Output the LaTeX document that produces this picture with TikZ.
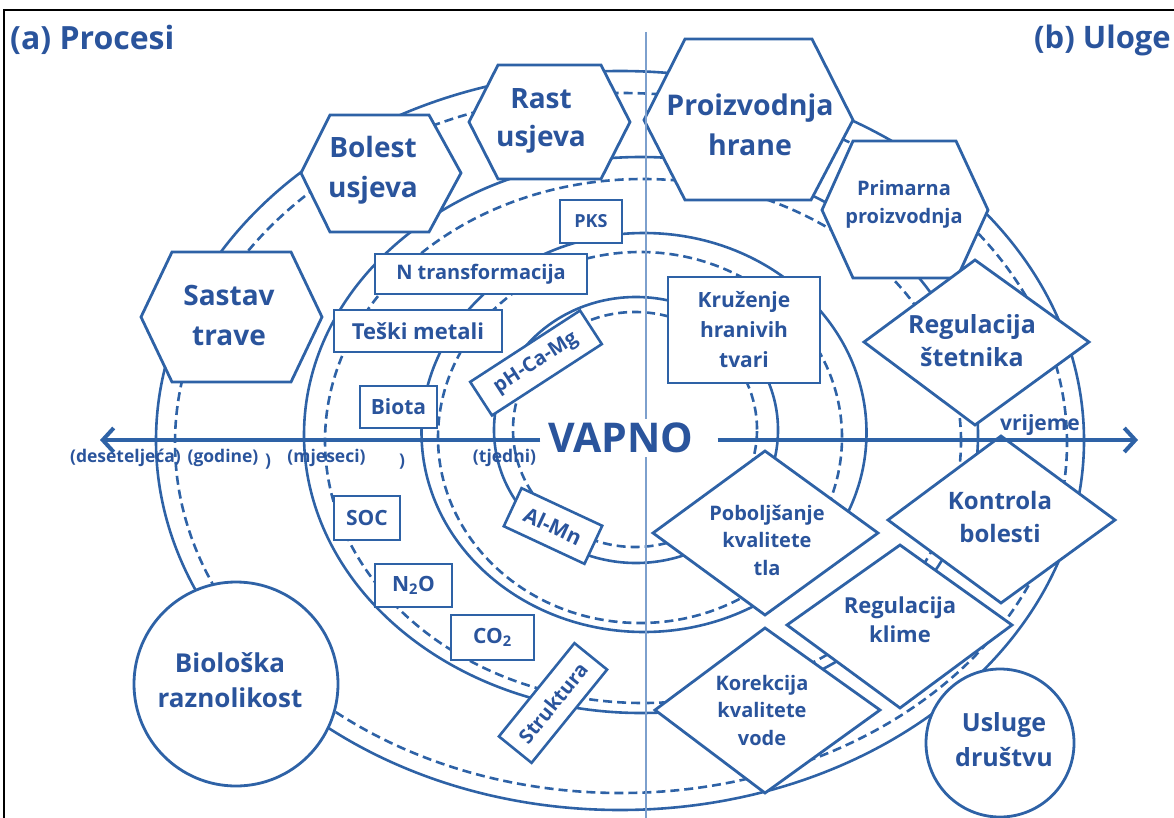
\documentclass[tikz,border=0pt]{standalone}
\usepackage{fontspec}
\setmainfont{Open Sans}
\usetikzlibrary{arrows.meta}
\definecolor{ln}{RGB}{46,98,166}
\definecolor{tx}{RGB}{42,84,156}
\definecolor{dv}{RGB}{125,160,205}
\begin{document}
\begin{tikzpicture}[x=1pt,y=-1pt,
  ring/.style={draw=ln, line width=2.6pt},
  dring/.style={draw=ln, line width=2.6pt, dash pattern=on 9pt off 5pt},
  shp/.style={draw=ln, line width=2.8pt, fill=white, line join=miter},
  lbl/.style={text=tx, align=center, inner sep=0pt},
  box/.style={draw=ln, line width=2.6pt, fill=white, text=tx, inner sep=0pt,
    font=\bfseries\fontsize{20}{24}\selectfont},
  axis/.style={draw=ln, line width=4pt, -{Straight Barb[length=11pt,width=24pt,line width=4pt]}},
  tick/.style={text=tx, inner sep=0pt, font=\bfseries\fontsize{17.5}{20}\selectfont},
]
\useasboundingbox (0,0) rectangle (1174,818);
% frame
\draw[black, line width=2.5pt] (4,818) -- (4,10) -- (1174,10);
% titles
\node[lbl, anchor=west, font=\bfseries\fontsize{32}{36}\selectfont] (ta) at (10,40) {(a) Procesi};
\node[lbl, anchor=east, font=\bfseries\fontsize{31}{36}\selectfont] (tb) at (1171,40) {(b) Uloge};
% rings
\draw[ring]  (620,440.5) ellipse [x radius=464pt, y radius=369.5pt];
\draw[dring] (621,443) ellipse [x radius=446pt, y radius=350pt];
\draw[ring]  (641,435) ellipse [x radius=337pt, y radius=278pt];
\draw[dring] (643,441) ellipse [x radius=318pt, y radius=262pt];
\draw[ring]  (644,432.5) ellipse [x radius=222.5pt, y radius=199.5pt];
\draw[dring] (640,437.5) ellipse [x radius=202pt, y radius=185.5pt];
\draw[ring]  (636,430) ellipse [x radius=142pt, y radius=133pt];
\draw[dring] (635,429.5) ellipse [x radius=122pt, y radius=117.5pt];
% hexagons
\draw[shp] (141,317) -- (172,252) -- (291,252) -- (322,317) -- (291,382) -- (172,382) -- cycle;
\draw[shp] (301,173) -- (330,115) -- (429,115) -- (461,173) -- (429,232) -- (330,232) -- cycle;
\draw[shp] (469,122) -- (498,65) -- (601,65) -- (630,122) -- (601,179) -- (498,179) -- cycle;
\draw[shp] (644,120) -- (685,39) -- (812,39) -- (853,120) -- (811,200) -- (685,200) -- cycle;
\draw[shp] (822,210) -- (853,141) -- (956,141) -- (988,210) -- (957,278) -- (853,278) -- cycle;
% diamonds
\draw[shp] (975,260) -- (1089,342) -- (975,425) -- (864,342) -- cycle;
\draw[shp] (1001,436) -- (1115,520) -- (1001,603) -- (888,520) -- cycle;
\draw[shp] (765,451) -- (878,533) -- (765,615) -- (653,533) -- cycle;
\draw[shp] (900,545) -- (1012,625) -- (900,708) -- (787,625) -- cycle;
\draw[shp] (765,628) -- (880,710) -- (765,793) -- (655,710) -- cycle;
% circles
\draw[shp] (236,684) circle [radius=102pt];
\draw[shp] (1000,743) circle [radius=74pt];
% boxes
\node[box, minimum width=152pt, minimum height=106pt, font=\bfseries\fontsize{21}{30}\selectfont, align=center] (kru) at (744,330) {Kruženje\\hranivih\\tvari};
\node[box, minimum width=62pt, minimum height=43pt, font=\bfseries\fontsize{18}{20}\selectfont] (pks) at (591,221.5) {PKS};
\node[box, minimum width=212pt, minimum height=40pt] (ntr) at (481,274) {N transformacija};
\node[box, minimum width=168pt, minimum height=42pt, font=\bfseries\fontsize{22}{24}\selectfont] (tes) at (418,331) {Teški metali};
\node[box, minimum width=77pt, minimum height=42pt, font=\bfseries\fontsize{21}{24}\selectfont] (bio) at (398.5,407) {Biota};
\node[box, minimum width=131pt, minimum height=40pt, rotate=33] (ph) at (536,363) {pH-Ca-Mg};
\node[box, minimum width=89pt, minimum height=42pt, rotate=-25, font=\bfseries\fontsize{21}{24}\selectfont] (alm) at (553,526) {Al-Mn};
\node[box, minimum width=66pt, minimum height=44pt, font=\bfseries\fontsize{21}{24}\selectfont] (soc) at (367,518) {SOC};
\node[box, minimum width=77pt, minimum height=43pt, font=\bfseries\fontsize{21}{24}\selectfont] (n2o) at (413.5,585.5) {N\textsubscript{2}O};
\node[box, minimum width=83pt, minimum height=45pt, font=\bfseries\fontsize{21}{24}\selectfont] (co2) at (492.5,637.5) {CO\textsubscript{2}};
\node[box, minimum width=120pt, minimum height=42pt, rotate=51] (str) at (553,703) {Struktura};
% shape labels
\node[lbl, font=\bfseries\fontsize{28}{40}\selectfont] (sas) at (229,315) {Sastav\\trave};
\node[lbl, font=\bfseries\fontsize{28}{40}\selectfont] (bol) at (373,170) {Bolest\\usjeva};
\node[lbl, font=\bfseries\fontsize{28}{38}\selectfont] (ras) at (541,121) {Rast\\usjeva};
\node[lbl, font=\bfseries\fontsize{28.5}{40}\selectfont] (pro) at (750,125) {Proizvodnja\\hrane};
\node[lbl, font=\bfseries\fontsize{20}{28}\selectfont] (pri) at (904,204) {Primarna\\proizvodnja};
\node[lbl, font=\bfseries\fontsize{25}{33}\selectfont] (ret) at (972,341) {Regulacija\\štetnika};
\node[lbl, font=\bfseries\fontsize{24}{33}\selectfont] (kon) at (1000,517) {Kontrola\\bolesti};
\node[lbl, font=\bfseries\fontsize{20}{27.5}\selectfont] (pob) at (767,540) {Poboljšanje\\kvalitete\\tla};
\node[lbl, font=\bfseries\fontsize{22}{29}\selectfont] (rkl) at (900,620) {Regulacija\\klime};
\node[lbl, font=\bfseries\fontsize{20}{27.5}\selectfont] (kor) at (762,710) {Korekcija\\kvalitete\\vode};
\node[lbl, font=\bfseries\fontsize{25}{35}\selectfont] (usl) at (1004,740) {Usluge\\društvu};
\node[lbl, font=\bfseries\fontsize{26}{35}\selectfont] (bil) at (230,680) {Biološka\\raznolikost};
% divider
\draw[dv, line width=2pt] (646,32) -- (646,818);
% centre and time axis
\node[lbl, fill=white, inner ysep=4pt, font=\bfseries\fontsize{41}{44}\selectfont] (vap) at (621,438) {VAPNO};
\coordinate (ltip) at (100,440);
\coordinate (rtip) at (1138,440);
\draw[axis] ([xshift=-8pt,yshift=-2pt]vap.west) -- (ltip);
\draw[axis] ([xshift=24pt,yshift=-2pt]vap.east) -- (rtip);
\node[tick] (t1) at (125.5,458) {(deseteljeća)};
\node[tick] (t2) at (223,458) {(godine)};
\node[tick] (t3) at (268,462) {)};
\node[tick] (t4) at (326.5,458) {(mjeseci)};
\node[tick] (t5) at (402,462) {)};
\node[tick] (t6) at (504.5,458) {(tjedni)};
\node[lbl, font=\bfseries\fontsize{21}{24}\selectfont] (vri) at (1040,425) {vrijeme};
\end{tikzpicture}
\end{document}
